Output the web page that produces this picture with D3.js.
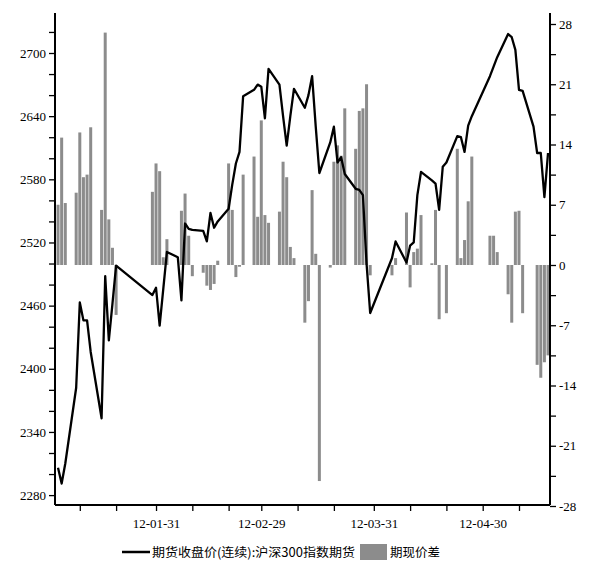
<!DOCTYPE html>
<html><head><meta charset="utf-8">
<script src="https://cdn.jsdelivr.net/npm/d3@7"></script>
<style>body{margin:0;background:#fff}svg{display:block}</style>
</head><body><svg id="c" width="591" height="571"></svg>
<script>
const dates = ["2012-01-04","2012-01-05","2012-01-06","2012-01-09","2012-01-10","2012-01-11","2012-01-12","2012-01-13","2012-01-16","2012-01-17","2012-01-18","2012-01-19","2012-01-20","2012-01-30","2012-01-31",
"2012-02-01","2012-02-02","2012-02-03","2012-02-06","2012-02-07","2012-02-08","2012-02-09","2012-02-10","2012-02-13","2012-02-14","2012-02-15","2012-02-16","2012-02-17","2012-02-20","2012-02-21","2012-02-22","2012-02-23","2012-02-24","2012-02-27","2012-02-28","2012-02-29",
"2012-03-01","2012-03-02","2012-03-05","2012-03-06","2012-03-07","2012-03-08","2012-03-09","2012-03-12","2012-03-13","2012-03-14","2012-03-15","2012-03-16","2012-03-19","2012-03-20","2012-03-21","2012-03-22","2012-03-23","2012-03-26","2012-03-27","2012-03-28","2012-03-29","2012-03-30",
"2012-04-05","2012-04-06","2012-04-09","2012-04-10","2012-04-11","2012-04-12","2012-04-13","2012-04-16","2012-04-17","2012-04-18","2012-04-19","2012-04-20","2012-04-23","2012-04-24","2012-04-25","2012-04-26","2012-04-27",
"2012-05-02","2012-05-03","2012-05-04","2012-05-07","2012-05-08","2012-05-09","2012-05-10","2012-05-11","2012-05-14","2012-05-15","2012-05-16","2012-05-17","2012-05-18"];
const futuresClose = [2306,2291,2310,2382,2463,2446,2446,2416,2353,2488,2427,2462,2498,2470,2477,
2441,2476,2511,2506,2465,2538,2533,2532,2531,2521,2548,2534,2540,2552,2575,2595,2606,2659,2665,2670,2668,
2638,2685,2670,2640,2612,2640,2666,2648,2660,2678,2630,2586,2615,2630,2596,2601,2585,2571,2570,2565,2500,2453,
2505,2521,2501,2517,2520,2565,2587,2579,2576,2551,2592,2596,2621,2620,2606,2631,2640,
2678,2687,2696,2718,2715,2703,2665,2664,2630,2605,2605,2563,2605];
const basis = [7.0,14.8,7.2,8.4,15.4,10.2,10.5,16.0,6.4,27.0,5.3,2.0,-5.8,8.5,11.8,
10.9,0.9,3.0,0,6.3,8.3,3.4,-1.3,-0.9,-2.4,-2.9,-2.2,0.5,11.8,6.4,-1.4,-0.2,10.5,12.6,5.6,16.8,
5.8,4.9,6.2,12.0,10.2,2.1,0.8,-6.7,-4.2,8.7,1.3,-25.1,-0.3,12.0,13.9,12.7,18.2,13.5,17.9,18.2,21.0,-1.2,
-1.2,0.8,6.1,-2.6,1.5,1.9,5.8,0.2,6.4,-6.3,0,-5.6,13.5,0.8,2.9,7.4,12.6,
3.4,3.4,1.5,-3.4,-6.7,6.2,6.3,-5.6,0,-11.6,-13.1,-11.3,-10.5];
const xTickLabels = ["12-01-31","12-02-29","12-03-31","12-04-30"];
const minorTickDates = ["2012-01-10","2012-01-20","2012-02-10","2012-02-20","2012-03-10","2012-03-20","2012-04-10","2012-04-20","2012-05-10"];
const leftTicks = [2280,2340,2400,2460,2520,2580,2640,2700];
const rightTicks = [-28,-21,-14,-7,0,7,14,21,28];
const legendLabels = ["期货收盘价(连续):沪深300指数期货","期现价差"];

const P = d3.timeParse("%Y-%m-%d");
const data = dates.map((d,i)=>({d:P(d),p:futuresClose[i],b:basis[i]}));
const svg = d3.select("#c");
const L=55,R=550,T=13,B=505;
const x = d3.scaleTime().domain([new Date(2012,0,3,4),new Date(2012,4,18,13)]).range([L,R]);
const yL = d3.scaleLinear().domain([2270.6,2738]).range([B,T]);
const yR = d3.scaleLinear().domain([-28,28]).range([506,24]);
const font = "'Liberation Serif','DejaVu Serif',serif";

// bars
svg.append("g").selectAll("rect").data(data.filter(d=>d.b!==0)).join("rect")
  .attr("x",d=>x(d.d)-1.5).attr("width",3)
  .attr("y",d=>Math.min(yR(d.b),yR(0))).attr("height",d=>Math.max(1,Math.abs(yR(d.b)-yR(0))))
  .attr("fill","#8c8c8c");

// line
svg.append("path").datum(data).attr("fill","none").attr("stroke","#000").attr("stroke-width",2.3)
  .attr("stroke-linejoin","round")
  .attr("d",d3.line().x(d=>x(d.d)).y(d=>yL(d.p)));

// left axis
const gl = svg.append("g").attr("transform",`translate(${L},0)`);
gl.call(d3.axisLeft(yL).tickValues(d3.range(2280,2738,20)).tickSize(6)
  .tickFormat(v=>leftTicks.includes(v)?v:""));
gl.select(".domain").attr("d",`M0,${T}V${B}`).attr("stroke-width",2);
gl.selectAll("text").attr("font-family",font).attr("font-size",13).attr("fill","#000");
gl.selectAll("line").attr("stroke-width",1.3);

// right axis
const gr = svg.append("g").attr("transform",`translate(${R},0)`);
gr.call(d3.axisRight(yR).tickValues(d3.range(-28,28.1,3.5)).tickSize(6)
  .tickFormat(v=>rightTicks.includes(v)?v:""));
gr.select(".domain").attr("d",`M0,${T}V${B}`).attr("stroke-width",2);
gr.selectAll("text").attr("font-family",font).attr("font-size",13).attr("fill","#000");
gr.selectAll("line").attr("stroke-width",1.3);

// bottom axis
const labelDates = xTickLabels.map(s=>P("20"+s));
const gb = svg.append("g").attr("transform",`translate(0,${B})`);
gb.call(d3.axisBottom(x).tickValues(labelDates.concat(minorTickDates.map(P))).tickSize(6)
  .tickFormat(d=>{const s=d3.timeFormat("%y-%m-%d")(d);return xTickLabels.includes(s)?s:"";}));
gb.select(".domain").attr("d",`M${L},0H${R}`).attr("stroke-width",2);
gb.selectAll("text").attr("font-family",font).attr("font-size",13).attr("fill","#000").attr("dy","1.1em");
gb.selectAll("line").attr("stroke-width",1.3);

// legend
const lg = svg.append("g").attr("font-family","'Noto Sans CJK SC',sans-serif").attr("font-size",12.5);
lg.append("line").attr("x1",122).attr("x2",150).attr("y1",552).attr("y2",552).attr("stroke","#000").attr("stroke-width",2.5);
lg.append("text").attr("x",152).attr("y",557).text(legendLabels[0]).attr("textLength",203).attr("lengthAdjust","spacingAndGlyphs");
lg.append("rect").attr("x",360).attr("y",544).attr("width",27).attr("height",16).attr("fill","#8c8c8c");
lg.append("text").attr("x",390).attr("y",557).text(legendLabels[1]).attr("textLength",50).attr("lengthAdjust","spacingAndGlyphs");
</script></body></html>
